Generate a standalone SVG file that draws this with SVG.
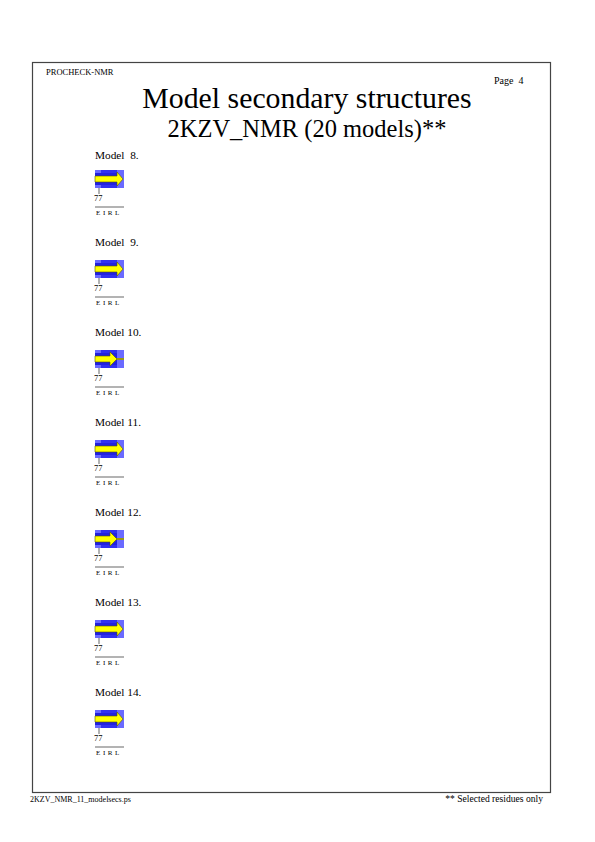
<svg xmlns="http://www.w3.org/2000/svg" width="595" height="842" viewBox="0 0 595 842" xml:space="preserve">
<style>
.t{font-family:"Liberation Serif","Times New Roman",serif;fill:#000;white-space:pre}
.lbl{font-size:11.3px}
.num{font-size:8.5px}
.res{font-size:7px;letter-spacing:2.6px}
.bl{fill:#6a6aff}
.bd{fill:#3030f0}
.bm{fill:#2222e0}
.arr{fill:#ffff00;stroke:#555500;stroke-width:0.6}
.ln{stroke:#000;stroke-width:0.6;fill:none}
</style>
<defs>
<g id="blk">
<rect class="bl" x="0" y="0" width="29" height="18"/>
<rect class="bd" x="6" y="0" width="16" height="18"/>
<rect class="bm" x="0" y="3" width="22" height="12"/>
<line class="ln" x1="4" y1="18" x2="4" y2="24" stroke="#666"/>
</g>
<polygon id="longarrow" class="arr" points="0,6 22,6 22,2 28,9 22,16 22,12 0,12"/>
<g id="shortarrow">
<line x1="20" y1="9" x2="29" y2="9" stroke="#555500" stroke-width="1.8"/>
<line x1="20" y1="9" x2="29" y2="9" stroke="#ffff00" stroke-width="0.8"/>
<polygon class="arr" points="0,6 15,6 15,2 22,9 15,16 15,12 0,12"/>
</g>
<g id="foot">
<text class="t num" x="-1" y="31">77</text>
<line class="ln" x1="0" y1="37" x2="29" y2="37"/>
<text class="t res" x="1" y="45">EIRL</text>
</g>
</defs>
<rect x="0" y="0" width="595" height="842" fill="#fff"/>
<rect x="32.5" y="62.5" width="518" height="730" fill="none" stroke="#444" stroke-width="1.2"/>
<text class="t" x="46" y="75" font-size="8.5">PROCHECK-NMR</text>
<text class="t" x="494" y="84" font-size="10">Page  4</text>
<text class="t" x="307" y="108" font-size="29.8" text-anchor="middle">Model secondary structures</text>
<text class="t" x="307" y="137" font-size="24.5" text-anchor="middle">2KZV_NMR (20 models)**</text>
<g id="connectors"></g>
<g id="model8" transform="translate(95,170)">
<text class="t lbl" x="0" y="-11">Model  8.</text>
<use href="#blk"/><use href="#longarrow"/><use href="#foot"/>
</g>
<g id="model9" transform="translate(95,260)">
<text class="t lbl" x="0" y="-14">Model  9.</text>
<use href="#blk"/><use href="#longarrow"/><use href="#foot"/>
</g>
<g id="model10" transform="translate(95,350)">
<text class="t lbl" x="0" y="-14">Model 10.</text>
<use href="#blk"/><use href="#shortarrow"/><use href="#foot"/>
</g>
<g id="model11" transform="translate(95,440)">
<text class="t lbl" x="0" y="-14">Model 11.</text>
<use href="#blk"/><use href="#longarrow"/><use href="#foot"/>
</g>
<g id="model12" transform="translate(95,530)">
<text class="t lbl" x="0" y="-14">Model 12.</text>
<use href="#blk"/><use href="#shortarrow"/><use href="#foot"/>
</g>
<g id="model13" transform="translate(95,620)">
<text class="t lbl" x="0" y="-14">Model 13.</text>
<use href="#blk"/><use href="#longarrow"/><use href="#foot"/>
</g>
<g id="model14" transform="translate(95,710)">
<text class="t lbl" x="0" y="-14">Model 14.</text>
<use href="#blk"/><use href="#longarrow"/><use href="#foot"/>
</g>
<text class="t" x="30" y="802" font-size="8">2KZV_NMR_11_modelsecs.ps</text>
<text class="t" x="543" y="802" font-size="9.6" text-anchor="end">** Selected residues only</text>
</svg>
